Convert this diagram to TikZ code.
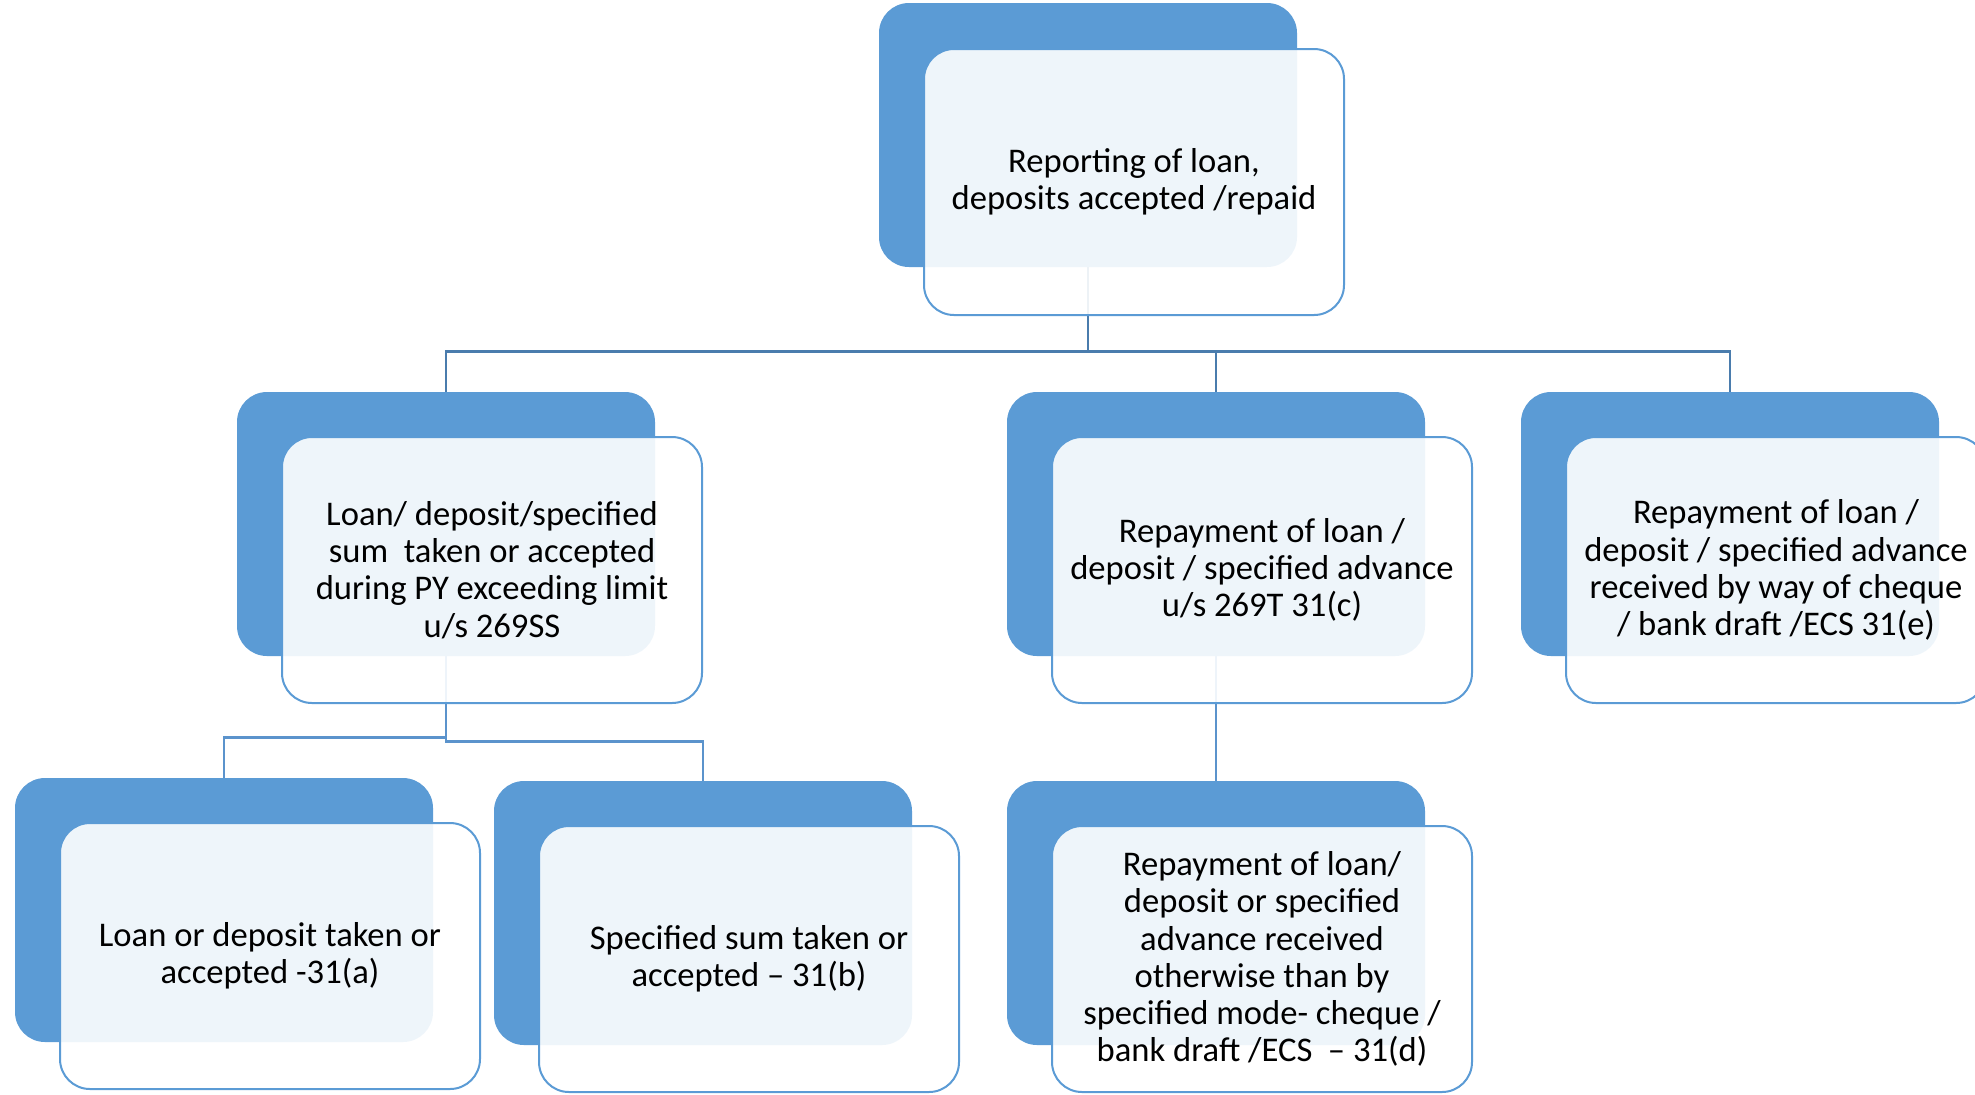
\documentclass[tikz,border=0pt]{standalone}
\usepackage{fontspec}
\setmainfont{Carlito}
\definecolor{boxblue}{HTML}{5B9BD5}
\definecolor{linkdark}{HTML}{4A7CAD}
\definecolor{linklight}{HTML}{5B93CC}
\begin{document}
\begin{tikzpicture}[x=0.5pt,y=-0.5pt]
	\tikzset{
		back/.style={rectangle, rounded corners=15pt, fill=boxblue, inner sep=0pt,
			minimum width=209pt, minimum height=132pt},
		front/.style={rectangle, rounded corners=15pt, draw=boxblue, line width=1pt,
			fill=white, fill opacity=0.9, text opacity=1, align=center,
			minimum width=210pt, minimum height=133pt,
			font=\fontsize{17.3}{18.6}\selectfont},
		link/.style={draw=linkdark, line width=1.3pt},
		sublink/.style={draw=linklight, line width=1.2pt}
	}
	\useasboundingbox (0,0) rectangle (1975,1094);
	% blue shapes behind
	\node[back] (topB) at (1088,135) {};
	\node[back] (lB)   at (446,524)  {};
	\node[back] (mB)   at (1216,524) {};
	\node[back] (rB)   at (1730,524) {};
	\node[back] (laB)  at (224,910)  {};
	\node[back] (lbB)  at (703,913)  {};
	\node[back] (mdB)  at (1216,913) {};
	% connectors
	\draw[link] (topB.south) -- ++(0,84) -| (lB.north);
	\draw[link] (topB.south) -- ++(0,84) -| (mB.north);
	\draw[link] (topB.south) -- ++(0,84) -| (rB.north);
	\draw[sublink] (lB.south) -- ++(0,81) -| (laB.north);
	\draw[sublink] (lB.south) -- ++(0,85) -| (lbB.north);
	\draw[sublink] (mB.south) -- (mdB.north);
	% text boxes in front
	\node[front] (top) at (1134,182) {Reporting of loan,\\deposits accepted /repaid};
	\node[front] (l)   at (492,570)  {Loan/ deposit/specified\\sum\ \ taken or accepted\\during PY exceeding limit\\u/s 269SS};
	\node[front] (m)   at (1262,570) {Repayment of loan /\\deposit / specified advance\\u/s 269T 31(c)};
	\node[front] (r)   at (1776,570) {Repayment of loan /\\deposit / specified advance\\received by way of cheque\\/ bank draft /ECS 31(e)};
	\node[front] (la)  at (270,956)  {Loan or deposit taken or\\accepted -31(a)};
	\node[front] (lb)  at (749,959)  {Specified sum taken or\\accepted -- 31(b)};
	\node[front] (md)  at (1262,959) {Repayment of loan/\\deposit or specified\\advance received\\otherwise than by\\specified mode- cheque /\\bank draft /ECS\ \ -- 31(d)};
\end{tikzpicture}
\end{document}
